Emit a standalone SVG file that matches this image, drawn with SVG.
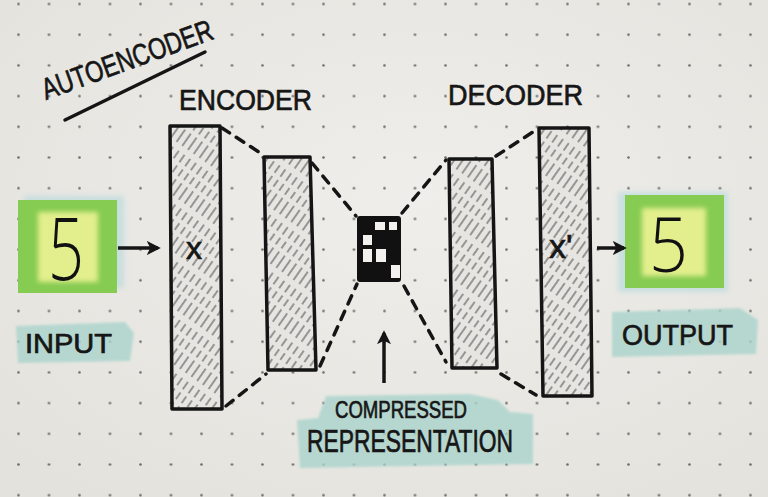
<svg xmlns="http://www.w3.org/2000/svg" width="768" height="497" viewBox="0 0 768 497">
  <defs>
    <pattern id="dots" patternUnits="userSpaceOnUse" x="3.25" y="-11.35" width="30.5" height="30.7">
      <circle cx="15.25" cy="15.35" r="1.3" fill="#6f6f6c"/>
    </pattern>
    <pattern id="hatch" patternUnits="userSpaceOnUse" width="7" height="46" patternTransform="rotate(35)">
      <line x1="2" y1="0" x2="2" y2="46" stroke="#2e2e2e" stroke-width="1.1" stroke-dasharray="15 6 9 4 8 4" opacity="0.8"/>
    </pattern>
    <filter id="soft" x="-20%" y="-20%" width="140%" height="140%">
      <feGaussianBlur stdDeviation="2.5"/>
    </filter>
    <filter id="soft2" x="-20%" y="-20%" width="140%" height="140%">
      <feGaussianBlur stdDeviation="1.2"/>
    </filter>
    <marker id="arrow" viewBox="0 0 10 10" refX="8" refY="5" markerWidth="4" markerHeight="4" orient="auto" markerUnits="strokeWidth">
      <path d="M0,0 L10,5 L0,10 L2.5,5 Z" fill="#151515"/>
    </marker>
    <radialGradient id="paper" cx="55%" cy="40%" r="75%">
      <stop offset="0" stop-color="#efeeea"/>
      <stop offset="1" stop-color="#e3e2dd"/>
    </radialGradient>
  </defs>
  <style>
    .ink { fill: #161616; font-family: "Liberation Sans", "DejaVu Sans", sans-serif; stroke: #161616; stroke-width: 0.7; }
    .block { fill: url(#hatch); stroke: #151515; stroke-width: 3.5; stroke-linejoin: round; }
    .blockbg { fill: #e6e5e1; }
    .dash { fill: none; stroke: #151515; stroke-width: 3.5; stroke-dasharray: 9 8; stroke-linecap: round; }
    .arrow { fill: none; stroke: #151515; stroke-width: 3.5; marker-end: url(#arrow); }
    .teal { fill: #aad4cc; opacity: 0.8; }
    .green { fill: #86cb52; }
    .yellow { fill: #e3ef8c; }
    .five { fill: #111; font-family: "Open Sans", "Inter", "Liberation Sans", sans-serif; font-weight: 300; }
  </style>

  <!-- paper -->
  <rect x="0" y="0" width="768" height="497" fill="url(#paper)"/>
  <rect x="0" y="0" width="768" height="497" fill="url(#dots)"/>

  <!-- title -->
  <g id="title">
    <text class="ink" x="46" y="100" font-size="30" textLength="180" lengthAdjust="spacingAndGlyphs" transform="rotate(-20 46 100)">AUTOENCODER</text>
    <line x1="65" y1="120" x2="205" y2="52" stroke="#151515" stroke-width="3.5" stroke-linecap="round"/>
  </g>

  <g id="encoder-label">
    <text class="ink" x="179" y="110" font-size="30" textLength="133" lengthAdjust="spacingAndGlyphs">ENCODER</text>
  </g>
  <g id="decoder-label">
    <text class="ink" x="448" y="105" font-size="30" textLength="135" lengthAdjust="spacingAndGlyphs">DECODER</text>
  </g>

  <!-- input -->
  <g id="input">
    <rect x="24" y="196" width="100" height="92" fill="#b3d9dc" opacity="0.6" filter="url(#soft)"/>
    <rect class="green" x="18" y="200" width="99" height="93"/>
    <rect class="yellow" x="38" y="212" width="60" height="70" filter="url(#soft)"/>
    <text class="five" x="48" y="280" font-size="86" textLength="36" lengthAdjust="spacingAndGlyphs">5</text>
  </g>
  <g id="input-label">
    <path class="teal" d="M16,326 L125,322 L134,333 L130,361 L18,363 Z" filter="url(#soft2)"/>
    <text class="ink" x="25" y="353" font-size="28" textLength="87" lengthAdjust="spacingAndGlyphs">INPUT</text>
  </g>

  <!-- output -->
  <g id="output">
    <rect x="618" y="192" width="110" height="100" fill="#b3d9dc" opacity="0.6" filter="url(#soft)"/>
    <rect class="green" x="625" y="195" width="99" height="93"/>
    <rect class="yellow" x="642" y="208" width="64" height="68" filter="url(#soft)"/>
    <text class="five" x="649" y="272" font-size="75" textLength="39" lengthAdjust="spacingAndGlyphs">5</text>
  </g>
  <g id="output-label">
    <path class="teal" d="M612,312 L740,308 L758,320 L756,354 L612,357 Z" filter="url(#soft2)"/>
    <text class="ink" x="622" y="345" font-size="30" textLength="111" lengthAdjust="spacingAndGlyphs">OUTPUT</text>
  </g>

  <!-- encoder layers -->
  <g id="encoder-layer-1">
    <path class="blockbg" d="M170,126 L220,126 L222,409 L172,409 Z"/>
    <path class="block" d="M170,126 L220,126 L222,409 L172,409 Z"/>
    <text class="ink" x="186" y="259" font-size="32">x</text>
  </g>
  <g id="encoder-layer-2">
    <path class="blockbg" d="M264,157 L310,157 L316,370 L268,370 Z"/>
    <path class="block" d="M264,157 L310,157 L316,370 L268,370 Z"/>
  </g>

  <!-- code -->
  <g id="code">
    <rect x="358" y="217" width="42" height="64" fill="#111" stroke="#111" stroke-width="2" rx="2"/>
    <rect x="375" y="222" width="10" height="8" fill="#f2f1ed"/>
    <rect x="389" y="222" width="8" height="8" fill="#f2f1ed"/>
    <rect x="363" y="235" width="9" height="10" fill="#f2f1ed"/>
    <rect x="363" y="249" width="9" height="13" fill="#f2f1ed"/>
    <rect x="376" y="249" width="10" height="13" fill="#f2f1ed"/>
    <rect x="391" y="265" width="9" height="13" fill="#f2f1ed"/>
  </g>

  <!-- decoder layers -->
  <g id="decoder-layer-1">
    <path class="blockbg" d="M449,159 L492,159 L497,368 L452,368 Z"/>
    <path class="block" d="M449,159 L492,159 L497,368 L452,368 Z"/>
  </g>
  <g id="decoder-layer-2">
    <path class="blockbg" d="M539,128 L589,128 L592,396 L543,396 Z"/>
    <path class="block" d="M539,128 L589,128 L592,396 L543,396 Z"/>
    <text class="ink" x="549" y="258" font-size="34">x'</text>
  </g>

  <!-- connectors -->
  <g id="connectors">
    <path class="dash" d="M222,128 L262,154"/>
    <path class="dash" d="M312,163 L356,216"/>
    <path class="dash" d="M226,406 L266,374"/>
    <path class="dash" d="M320,366 L357,284"/>
    <path class="dash" d="M402,213 L446,160"/>
    <path class="dash" d="M496,156 L536,130"/>
    <path class="dash" d="M404,286 L446,362"/>
    <path class="dash" d="M501,374 L536,395"/>
    <line class="arrow" x1="118" y1="248" x2="158" y2="248"/>
    <line class="arrow" x1="597" y1="248" x2="624" y2="248"/>
    <line class="arrow" x1="384" y1="383" x2="384" y2="333"/>
  </g>

  <!-- compressed representation label -->
  <g id="compressed-label">
    <path class="teal" d="M326,396 L470,394 L498,400 L510,412 L533,414 L533,464 L300,468 L297,420 L318,418 Z" filter="url(#soft2)"/>
    <text class="ink" x="335" y="418" font-size="24" textLength="132" lengthAdjust="spacingAndGlyphs">COMPRESSED</text>
    <text class="ink" x="307" y="452" font-size="31" textLength="206" lengthAdjust="spacingAndGlyphs">REPRESENTATION</text>
  </g>
</svg>
